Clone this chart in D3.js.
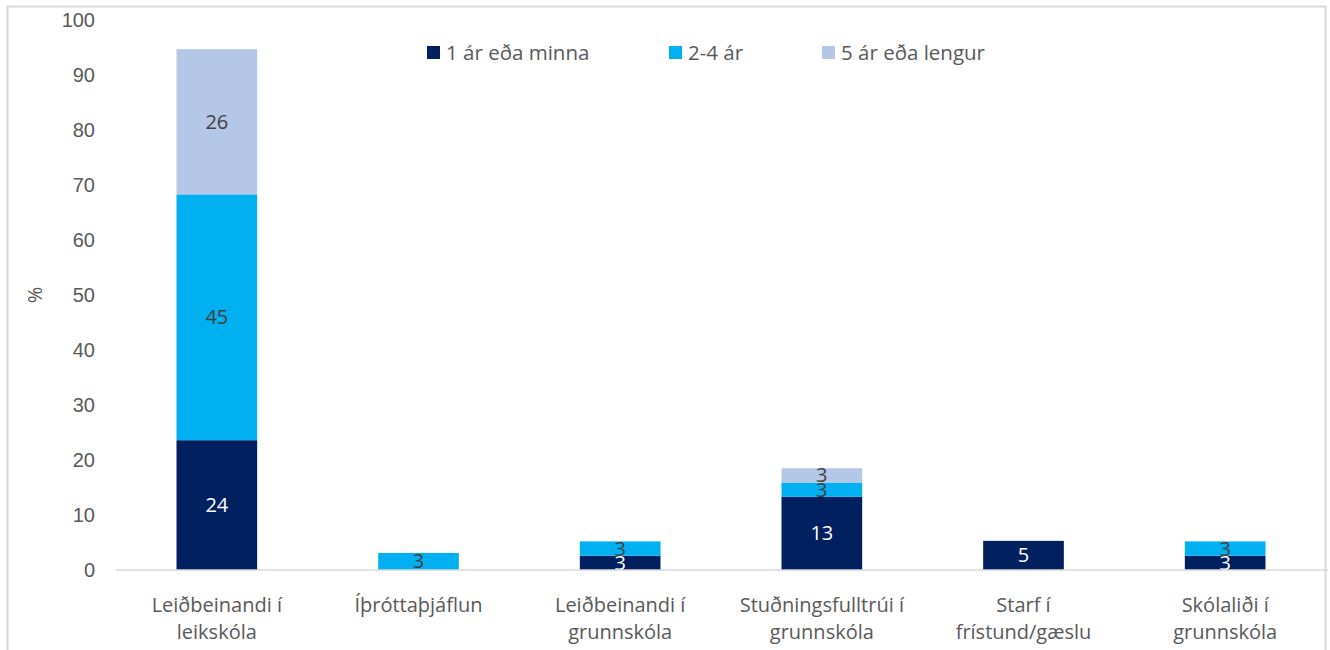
<!DOCTYPE html>
<html>
<head>
<meta charset="utf-8">
<script src="https://cdn.jsdelivr.net/npm/d3@7"></script>
<style>
  body { margin: 0; background: #fff; }
  svg { font-family: "Open Sans", sans-serif; }
  .tick text { fill: #595959; font-size: 20px; }
  .cat-label { fill: #595959; font-size: 20px; }
  .legend text { fill: #595959; font-size: 20.5px; }
</style>
</head>
<body>
<div id="chart"></div>
<script>
const categories = [
  ["Leiðbeinandi í", "leikskóla"],
  ["Íþróttaþjáflun"],
  ["Leiðbeinandi í", "grunnskóla"],
  ["Stuðningsfulltrúi í", "grunnskóla"],
  ["Starf í", "frístund/gæslu"],
  ["Skólaliði í", "grunnskóla"]
];
const seriesNames = ["1 ár eða minna", "2-4 ár", "5 ár eða lengur"];
const oneYear   = [23.6, 0,   2.6, 13.3, 5.3, 2.6];
const twoFour   = [44.7, 3.1, 2.6, 2.6,  0,   2.6];
const fivePlus  = [26.4, 0,   0,   2.6,  0,   0];
const yTicks = [0, 10, 20, 30, 40, 50, 60, 70, 80, 90, 100];
const colors = ["#002060", "#00B0F0", "#B4C7E7"];
const labelColors = ["#ffffff", "#404040", "#404040"];

const W = 1330, H = 650;
const margin = {top: 20, right: 4, bottom: 80, left: 116};
const width = W - margin.left - margin.right,
  height = H - margin.top - margin.bottom;

const svg = d3.select("#chart").append("svg")
  .attr("width", W)
  .attr("height", H);

// frame
svg.append("rect")
  .attr("x", 7.5).attr("y", 6.5)
  .attr("width", 1318).attr("height", 660)
  .attr("fill", "none")
  .attr("stroke", "#d9d9d9")
  .attr("stroke-width", 2);

const g = svg.append("g")
  .attr("transform", `translate(${margin.left}, ${margin.top})`);

const keys = categories.map((c, i) => i);
const x = d3.scaleBand()
  .domain(keys)
  .range([0, width])
  .paddingInner(0.6)
  .paddingOuter(0.3);

const y = d3.scaleLinear()
  .domain([0, 100])
  .range([height, 0]);

// y axis
const yAxis = g.append("g")
  .call(d3.axisLeft(y).tickValues(yTicks).tickSize(0).tickPadding(21));
yAxis.select(".domain").remove();

g.append("text")
  .attr("transform", "rotate(-90)")
  .attr("x", -y(50))
  .attr("y", -74)
  .attr("text-anchor", "middle")
  .attr("fill", "#595959")
  .style("font-size", "20px")
  .text("%");

// stacked data
const table = keys.map(i => ({i: i, s0: oneYear[i], s1: twoFour[i], s2: fivePlus[i]}));
const stack = d3.stack().keys(["s0", "s1", "s2"])(table);

stack.forEach((layer, si) => {
  const lg = g.append("g");
  lg.selectAll("rect")
    .data(layer.filter(d => d[1] - d[0] > 0))
    .enter()
    .append("rect")
      .attr("x", d => x(d.data.i))
      .attr("y", d => y(d[1]))
      .attr("width", x.bandwidth())
      .attr("height", d => y(d[0]) - y(d[1]))
      .attr("fill", colors[si]);
});

// value labels
stack.forEach((layer, si) => {
  g.append("g").selectAll("text")
    .data(layer.filter(d => d[1] - d[0] > 0))
    .enter()
    .append("text")
      .attr("x", d => x(d.data.i) + x.bandwidth() / 2)
      .attr("y", d => (y(d[0]) + y(d[1])) / 2)
      .attr("dy", "0.35em")
      .attr("text-anchor", "middle")
      .attr("fill", labelColors[si])
      .style("font-size", "20px")
      .text(d => Math.round(d[1] - d[0]));
});

// baseline
g.append("line")
  .attr("x1", 0).attr("x2", width + 2)
  .attr("y1", y(0)).attr("y2", y(0))
  .attr("stroke", "#d9d9d9")
  .attr("stroke-width", 1.5);

// category labels
const cl = g.append("g").selectAll("text")
  .data(categories)
  .enter()
  .append("text")
    .attr("class", "cat-label")
    .attr("text-anchor", "middle")
    .attr("x", (d, i) => x(i) + x.bandwidth() / 2)
    .attr("y", height + 42);
cl.selectAll("tspan")
  .data(d => d)
  .enter()
  .append("tspan")
    .attr("x", function() { return d3.select(this.parentNode).attr("x"); })
    .attr("dy", (d, j) => j === 0 ? 0 : 27)
    .text(d => d);

// legend
const legendX = [427, 669, 822];
const legend = svg.append("g").attr("class", "legend");
seriesNames.forEach((name, i) => {
  legend.append("rect")
    .attr("x", legendX[i]).attr("y", 46)
    .attr("width", 13).attr("height", 13)
    .attr("fill", colors[i]);
  legend.append("text")
    .attr("x", legendX[i] + 19).attr("y", 53)
    .attr("dy", "0.35em")
    .text(name);
});
</script>
</body>
</html>
